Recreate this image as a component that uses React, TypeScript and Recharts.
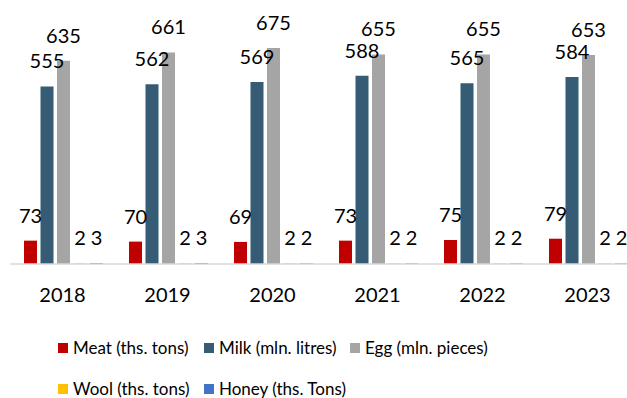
import React from "react";
import { BarChart, Bar, XAxis, YAxis, LabelList } from "recharts";

// Livestock production by year
const years = ["2018", "2019", "2020", "2021", "2022", "2023"];
const meat = [73, 70, 69, 73, 75, 79];
const milk = [555, 562, 569, 588, 565, 584];
const egg = [635, 661, 675, 655, 655, 653];
const wool = [2, 2, 2, 2, 2, 2];
const honey = [3, 3, 2, 2, 2, 2];

const series = [
  { key: "meat", name: "Meat (ths. tons)", color: "#C00000", values: meat },
  { key: "milk", name: "Milk (mln. litres)", color: "#355C74", values: milk },
  { key: "egg", name: "Egg (mln. pieces)", color: "#A5A5A5", values: egg },
  { key: "wool", name: "Wool (ths. tons)", color: "#FFC000", values: wool },
  { key: "honey", name: "Honey (ths. Tons)", color: "#4472C4", values: honey },
];

const data = years.map((year, i) => {
  const row: Record<string, string | number> = { year };
  series.forEach((s) => {
    row[s.key] = s.values[i];
  });
  return row;
});

const FONT = "Lato, 'Open Sans', sans-serif";

function LegendBlock() {
  const rows = [series.slice(0, 3), series.slice(3)];
  return (
    <div style={{ position: "absolute", left: 0, top: 0 }}>
      {rows.map((row, r) =>
        row.map((s, c) => (
          <div
            key={s.key}
            style={{
              position: "absolute",
              left: 58 + c * 146,
              top: 337 + r * 41,
              display: "flex",
              alignItems: "center",
              whiteSpace: "nowrap",
              fontFamily: FONT,
              fontSize: 17,
              color: "#000",
              lineHeight: "22px",
            }}
          >
            <span
              style={{
                display: "inline-block",
                width: 10,
                height: 10,
                background: s.color,
                marginRight: 5,
              }}
            />
            {s.name}
          </div>
        ))
      )}
    </div>
  );
}

export default function App() {
  return (
    <div
      style={{
        position: "absolute",
        left: 0,
        top: 0,
        width: 627,
        height: 398,
        overflow: "hidden",
        background: "#fff",
      }}
    >
      <BarChart
        width={645}
        height={330}
        data={data}
        margin={{ top: 40, right: 5, bottom: 16, left: 10 }}
        barCategoryGap={14}
        barGap={3.5}
      >
        <XAxis
          dataKey="year"
          height={50}
          axisLine={{ stroke: "#D9D9D9", strokeWidth: 1.5 }}
          tickLine={false}
          tickMargin={18}
          tick={{ fill: "#000", fontSize: 20, fontFamily: FONT }}
          interval={0}
        />
        <YAxis hide domain={[0, 700]} />
        {series.map((s) => (
          <Bar
            key={s.key}
            dataKey={s.key}
            name={s.name}
            fill={s.color}
            isAnimationActive={false}
          >
            <LabelList
              dataKey={s.key}
              position="top"
              offset={18}
              style={{ fill: "#000", fontSize: 20, fontFamily: FONT }}
            />
          </Bar>
        ))}
      </BarChart>
      <LegendBlock />
    </div>
  );
}
